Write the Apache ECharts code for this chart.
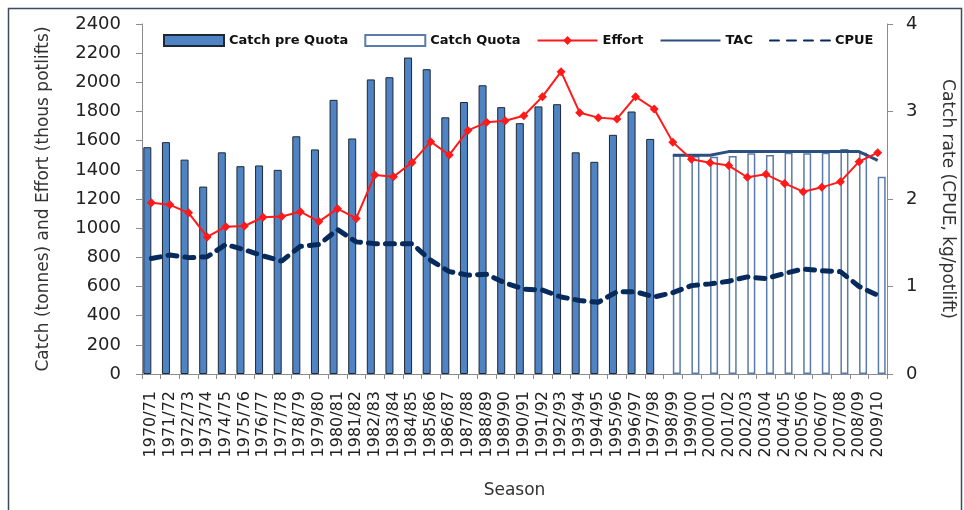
<!DOCTYPE html>
<html>
<head>
<meta charset="utf-8">
<script src="https://cdn.jsdelivr.net/npm/echarts@6/dist/echarts.min.js"></script>
<style>
  html, body { margin: 0; padding: 0; background: #fff; }
  #chart { width: 964px; height: 510px; }
</style>
</head>
<body>
<div id="chart"></div>
<script>
// seasons on the x axis
const seasons = ['1970/71', '1971/72', '1972/73', '1973/74', '1974/75', '1975/76', '1976/77', '1977/78',
  '1978/79', '1979/80', '1980/81', '1981/82', '1982/83', '1983/84', '1984/85', '1985/86', '1986/87',
  '1987/88', '1988/89', '1989/90', '1990/91', '1991/92', '1992/93', '1993/94', '1994/95', '1995/96',
  '1996/97', '1997/98', '1998/99', '1999/00', '2000/01', '2001/02', '2002/03', '2003/04', '2004/05',
  '2005/06', '2006/07', '2007/08', '2008/09', '2009/10']

// catch (tonnes) before the quota system
const catchPreQuota = [1555, 1590, 1470, 1285, 1520, 1425, 1430, 1400, 1630, 1540, 1880, 1615, 2020, 2035,
  2170, 2090, 1760, 1865, 1980, 1830, 1720, 1835, 1850, 1520, 1455, 1640, 1800, 1612,
  null, null, null, null, null, null, null, null, null, null, null, null]

// catch (tonnes) under quota
const catchQuota = [null, null, null, null, null, null, null, null, null, null, null, null, null, null,
  null, null, null, null, null, null, null, null, null, null, null, null, null, null,
  1502, 1495, 1490, 1495, 1513, 1502, 1518, 1513, 1518, 1543, 1518, 1353]

// effort (thous potlifts)
const effort = [1175, 1160, 1105, 940, 1010, 1015, 1075, 1080, 1113, 1045, 1134, 1067, 1365, 1353,
  1451, 1593, 1502, 1670, 1726, 1737, 1771, 1902, 2073, 1792, 1758, 1749, 1902, 1817,
  1590, 1472, 1449, 1429, 1349, 1369, 1307, 1250, 1280, 1319, 1456, 1518]

// total allowable catch (tonnes)
const tac = [null, null, null, null, null, null, null, null, null, null, null, null, null, null,
  null, null, null, null, null, null, null, null, null, null, null, null, null, null,
  1500, 1500, 1500, 1525, 1525, 1525, 1525, 1525, 1525, 1525, 1525, 1465]

// catch rate (kg/potlift)
const cpue = [1.32, 1.36, 1.33, 1.34, 1.48, 1.42, 1.35, 1.29, 1.46, 1.48, 1.65, 1.51, 1.49, 1.49,
  1.49, 1.30, 1.17, 1.13, 1.14, 1.04, 0.97, 0.96, 0.88, 0.84, 0.82, 0.94, 0.94, 0.88,
  0.93, 1.01, 1.03, 1.06, 1.11, 1.09, 1.15, 1.20, 1.18, 1.17, 1.00, 0.90]

const axisFont = 'DejaVu Sans'
const axisGray = '#8c8c8c'

const option = {
  animation: false,
  backgroundColor: '#fff',
  graphic: [
    {
      type: 'rect',
      shape: { x: 8.5, y: 8.5, width: 953, height: 530 },
      style: { fill: 'none', stroke: '#3b4c5e', lineWidth: 1.5 },
      silent: true
    }
  ],
  legend: {
    left: 158,
    top: 29,
    itemWidth: 60,
    itemHeight: 11,
    itemGap: 16,
    backgroundColor: '#fff',
    textStyle: {
      fontFamily: 'DejaVu Sans',
      fontWeight: 'bold',
      fontSize: 13,
      color: '#111'
    },
    data: [
      { name: 'Catch pre Quota', icon: 'rect' },
      { name: 'Catch Quota', icon: 'rect' },
      { name: 'Effort' },
      { name: 'TAC', itemStyle: { opacity: 0 } },
      { name: 'CPUE', itemStyle: { opacity: 0 } }
    ]
  },
  grid: {
    left: 142,
    right: 75,
    top: 24,
    bottom: 136
  },
  xAxis: {
    type: 'category',
    data: seasons,
    name: 'Season',
    nameLocation: 'middle',
    nameGap: 108,
    nameTextStyle: { fontFamily: axisFont, fontSize: 17, color: '#333' },
    axisLine: { lineStyle: { color: axisGray } },
    axisTick: { show: true, length: 5, lineStyle: { color: axisGray } },
    axisLabel: {
      interval: 0,
      rotate: 90,
      margin: 17,
      fontFamily: axisFont,
      fontSize: 16,
      color: '#222'
    }
  },
  yAxis: [
    {
      type: 'value',
      min: 0,
      max: 2400,
      interval: 200,
      name: 'Catch (tonnes) and Effort (thous potlifts)',
      nameLocation: 'middle',
      nameRotate: 90,
      nameGap: 90,
      nameTextStyle: { fontFamily: axisFont, fontSize: 17, color: '#333' },
      axisLine: { show: true, lineStyle: { color: axisGray } },
      axisTick: { show: true, length: 6, lineStyle: { color: axisGray } },
      axisLabel: { fontFamily: axisFont, fontSize: 18, color: '#222', margin: 21, formatter: v => String(v) },
      splitLine: { show: false }
    },
    {
      type: 'value',
      min: 0,
      max: 4,
      interval: 1,
      position: 'right',
      name: 'Catch rate (CPUE, kg/potlift)',
      nameLocation: 'middle',
      nameRotate: -90,
      nameGap: 52,
      nameTextStyle: { fontFamily: axisFont, fontSize: 17, color: '#333' },
      axisLine: { show: true, lineStyle: { color: axisGray } },
      axisTick: { show: true, length: 6, lineStyle: { color: axisGray } },
      axisLabel: { fontFamily: axisFont, fontSize: 18, color: '#222', margin: 19 },
      splitLine: { show: false }
    }
  ],
  series: [
    {
      name: 'Catch pre Quota',
      type: 'bar',
      data: catchPreQuota,
      barWidth: 8,
      barGap: '0%',
      itemStyle: { color: '#4f83c4', borderColor: '#1e2833', borderWidth: 1 }
    },
    {
      name: 'Catch Quota',
      type: 'bar',
      data: catchQuota,
      barWidth: 8,
      barGap: '0%',
      itemStyle: { color: '#fff', borderColor: '#5b7caa', borderWidth: 1.5 }
    },
    {
      name: 'Effort',
      type: 'line',
      data: effort,
      symbol: 'diamond',
      symbolSize: 9,
      color: '#ff1a1a',
      lineStyle: { color: '#ff1a1a', width: 2 },
      itemStyle: { color: '#ff1a1a' },
      z: 4
    },
    {
      name: 'TAC',
      type: 'line',
      data: tac,
      symbol: 'none',
      color: '#2b4f7e',
      lineStyle: { color: '#2b4f7e', width: 3 },
      z: 3
    },
    {
      name: 'CPUE',
      type: 'line',
      yAxisIndex: 1,
      data: cpue,
      symbol: 'none',
      color: '#062a5c',
      lineStyle: { color: '#062a5c', width: 5, type: [9, 8], cap: 'round' },
      z: 3
    }
  ]
}

const myChart = echarts.init(document.getElementById('chart'))
myChart.setOption(option)
</script>
</body>
</html>
